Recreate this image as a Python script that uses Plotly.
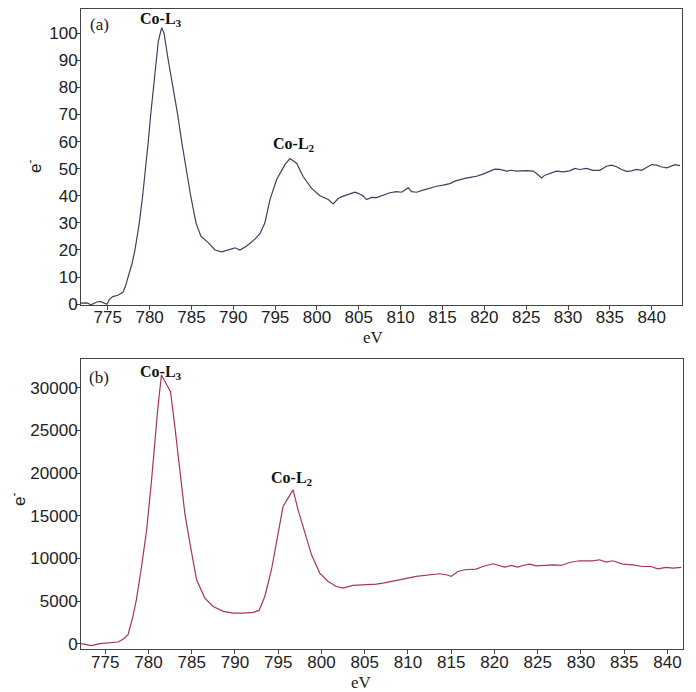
import plotly.graph_objects as go

# ---- Panel (a) data ----
ev_a = [771.8, 772.5, 773.0, 773.7, 774.1, 774.5, 774.9, 775.2, 775.6, 776.2, 776.8, 777.1,
        777.45, 777.9, 778.25, 778.77, 779.17, 779.57, 779.84, 780.13, 780.44, 780.76, 781.04,
        781.44, 781.72, 782.23, 782.83, 783.35, 783.83, 784.31, 784.91, 785.54, 786.14, 787.01,
        787.81, 788.61, 789.40, 790.20, 790.80, 791.60, 792.59, 793.19, 793.78, 794.38, 795.18,
        796.17, 796.77, 797.57, 798.36, 799.36, 800.35, 801.35, 801.94, 802.54, 802.9, 803.93,
        804.53, 804.93, 805.52, 805.93, 806.53, 807.12, 807.91, 808.71, 809.51, 810.11, 810.51,
        810.90, 811.31, 811.90, 812.69, 813.49, 814.29, 815.08, 815.88, 816.48, 817.08, 817.67,
        818.47, 819.07, 819.67, 820.27, 820.86, 821.26, 821.86, 822.66, 823.25, 823.85, 825.05,
        825.83, 826.24, 826.84, 827.23, 827.83, 828.63, 829.42, 830.22, 830.82, 831.41, 832.21,
        833.0, 833.8, 834.6, 835.2, 835.8, 836.4, 837.0, 837.6, 838.2, 838.8, 839.4, 840.0,
        840.6, 841.2, 841.8, 842.4, 842.8, 843.4]
cnt_a = [0.4, 0.5, -0.2, 0.8, 1.0, 0.6, 0.0, 1.8, 2.8, 3.3, 4.4, 6.5,
         10, 15, 20, 30, 40, 51, 60, 70, 80, 90, 97,
         102, 100, 90, 80, 70, 60, 51, 40, 30, 25, 22.7,
         20, 19.3, 20, 20.8, 20, 21.5, 24, 26, 30, 38.6, 46,
         51.5, 53.7, 52, 47, 42.7, 40, 38.6, 37, 39, 39.6, 40.7,
         41.3, 40.9, 39.9, 38.6, 39.4, 39.3, 40.1, 41.1, 41.5, 41.3, 42.1,
         42.9, 41.5, 41.3, 42.1, 42.9, 43.5, 43.9, 44.5, 45.4, 46.0, 46.4,
         46.9, 47.2, 47.8, 48.5, 49.4, 49.8, 49.7, 49.1, 49.4, 49.1, 49.3,
         49.1, 48.2, 46.6, 47.6, 48.3, 49.1, 48.8, 49.2, 50.1, 49.7, 50.1,
         49.4, 49.4, 50.9, 51.3, 50.7, 49.7, 49.0, 49.2, 49.7, 49.4, 50.3, 51.5,
         51.3, 50.6, 50.3, 50.9, 51.5, 51.1]

# ---- Panel (b) data ----
ev_b = [772.2, 773.4, 774.4, 775.55, 776.5, 777.1, 777.64, 778.2, 778.6, 779.2, 779.79,
        780.36, 780.75, 781.1, 781.5, 782.0, 782.55, 783.05, 783.63, 784.2, 784.79, 785.56,
        786.52, 787.48, 788.64, 789.8, 790.95, 792.1, 792.79, 793.45, 794.22, 794.98, 795.56,
        796.14, 796.72, 797.3, 798.07, 798.85, 799.8, 800.77, 801.73, 802.5, 803.64, 805.18,
        806.35, 807.1, 808.26, 809.41, 810.95, 812.49, 813.65, 814.42, 815.0, 815.77, 816.54,
        817.89, 818.66, 819.81, 820.4, 821.17, 821.94, 822.71, 823.28, 824.06, 824.83, 825.6,
        826.75, 827.72, 828.68, 829.83, 831.37, 832.14, 832.91, 833.68, 834.84, 835.99, 837.15,
        838.11, 838.88, 839.85, 840.62, 841.59]
cnt_b = [0, -230, 0, 80, 200, 550, 1050, 3200, 5150, 9050, 13350,
         19200, 24270, 27790, 31500, 30530, 29540, 25440, 19980, 15300, 11790, 7490,
         5350, 4370, 3790, 3590, 3590, 3670, 3900, 5540, 8670, 12960, 16080,
         17060, 18030, 15690, 12960, 10420, 8280, 7300, 6710, 6520, 6830, 6910,
         6990, 7110, 7300, 7570, 7890, 8080, 8200, 8080, 7890, 8470, 8670,
         8740, 9050, 9370, 9170, 8980, 9170, 8980, 9170, 9330, 9130, 9170,
         9250, 9170, 9520, 9720, 9720, 9840, 9560, 9720, 9330, 9250, 9050,
         9050, 8780, 8940, 8860, 8940]

x_ticks = [775, 780, 785, 790, 795, 800, 805, 810, 815, 820, 825, 830, 835, 840]
y_ticks_a = [0, 10, 20, 30, 40, 50, 60, 70, 80, 90, 100]
y_ticks_b = [0, 5000, 10000, 15000, 20000, 25000, 30000]

SANS = "Liberation Sans, Arial, sans-serif"
SERIF = "Liberation Serif, Times New Roman, serif"

fig = go.Figure()
fig.add_trace(go.Scatter(x=ev_a, y=cnt_a, mode="lines", line=dict(color="#3e3e62", width=1.2),
                         xaxis="x", yaxis="y", showlegend=False))
fig.add_trace(go.Scatter(x=ev_b, y=cnt_b, mode="lines", line=dict(color="#a8345c", width=1.2),
                         xaxis="x2", yaxis="y2", showlegend=False))

axis_common = dict(showgrid=False, zeroline=False, showline=True, mirror=True,
                   linecolor="#444444", linewidth=1, ticks="outside", ticklen=4,
                   tickcolor="#444444", tickfont=dict(family=SANS, size=17, color="#222222"))

fig.update_layout(
    width=696, height=692,
    margin=dict(l=81, r=13, t=9, b=43),
    paper_bgcolor="white", plot_bgcolor="white",
    xaxis=dict(domain=[0, 0.998], range=[771.8, 843.6], tickvals=x_ticks, anchor="y",
               ticklabelstandoff=-7, **axis_common),
    yaxis=dict(domain=[0.5375, 1], range=[-0.3, 108.9], tickvals=y_ticks_a, anchor="x",
               ticklabelstandoff=-5, **axis_common),
    xaxis2=dict(domain=[0, 1], range=[772.2, 841.8], tickvals=x_ticks, anchor="y2",
                ticklabelstandoff=-6, **axis_common),
    yaxis2=dict(domain=[0, 0.453], range=[-620, 33360], tickvals=y_ticks_b, tickformat="d",
                anchor="x2", ticklabelstandoff=-5, **axis_common),
)

def px(x):
    return (x - 81) / 602.0

def py(y):
    return (649 - y) / 640.0

anns = [
    # panel labels
    dict(text="(a)", x=px(99), y=py(24), font=dict(family=SERIF, size=17, color="#222")),
    dict(text="(b)", x=px(99), y=py(377), font=dict(family=SERIF, size=17, color="#222")),
    # peak labels
    dict(text="<b>Co-L<sub>3</sub></b>", x=px(161), y=py(19), font=dict(family=SERIF, size=16, color="#111")),
    dict(text="<b>Co-L<sub>2</sub></b>", x=px(294), y=py(144), font=dict(family=SERIF, size=16, color="#111")),
    dict(text="<b>Co-L<sub>3</sub></b>", x=px(161), y=py(372), font=dict(family=SERIF, size=16, color="#111")),
    dict(text="<b>Co-L<sub>2</sub></b>", x=px(292), y=py(478), font=dict(family=SERIF, size=16, color="#111")),
    # axis titles
    dict(text="eV", x=px(373), y=py(337), font=dict(family=SERIF, size=17, color="#222")),
    dict(text="eV", x=px(361), y=py(682), font=dict(family=SERIF, size=17, color="#222")),
    dict(text="e<sup>-</sup>", x=px(34), y=py(167), textangle=-90, font=dict(family=SANS, size=17, color="#222")),
    dict(text="e<sup>-</sup>", x=px(18), y=py(500), textangle=-90, font=dict(family=SANS, size=17, color="#222")),
]
for a in anns:
    a.update(xref="paper", yref="paper", showarrow=False, xanchor="center", yanchor="middle")
fig.update_layout(annotations=anns)

fig.write_html("out.html")
